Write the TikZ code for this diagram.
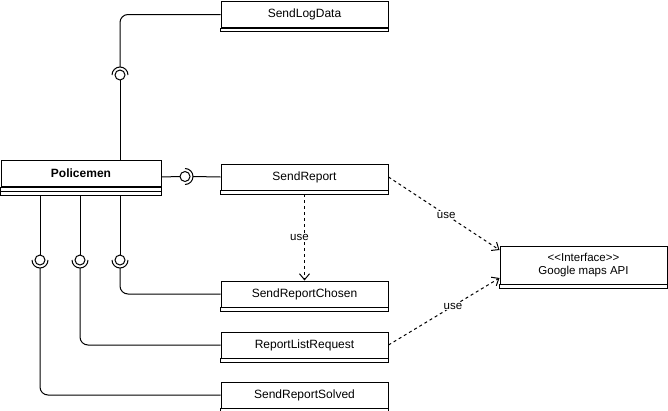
\documentclass[tikz,border=0pt]{standalone}
\usepackage{fontspec}
\setmainfont{Liberation Sans}
\usetikzlibrary{arrows.meta,calc}
\begin{document}
\begin{tikzpicture}[x=1pt,y=-1pt,
  line width=1pt,
  classbox/.style={draw, rectangle, minimum width=167pt, minimum height=26pt,
    anchor=north west, inner sep=0pt, font=\fontsize{12}{14}\selectfont},
  wire/.style={draw, rounded corners=8pt},
  dep/.style={draw, dash pattern=on 3pt off 3pt,
    -{Straight Barb[length=6pt,width=10pt]}},
  uselbl/.style={fill=white, inner sep=1pt, font=\fontsize{11.5}{13}\selectfont},
]
\useasboundingbox (0,0) rectangle (668,410);

% classes
\node[classbox, minimum width=160pt, font=\fontsize{12}{14}\selectfont\bfseries]
  (pol) at (0.5,160) {Policemen};
\draw (pol.south west) rectangle ($(pol.south east)+(0,8)$);
\draw ($(pol.south west)+(0,4)$) -- ($(pol.south east)+(0,4)$);
\coordinate (polb) at ($(pol.south)+(0,8)$);

\node[classbox] (sld) at (220.5,1) {SendLogData};
\node[classbox] (sr)  at (220.5,163.5) {SendReport};
\node[classbox] (src) at (220.5,280.5) {SendReportChosen};
\node[classbox] (rlr) at (220.5,331.5) {ReportListRequest};
\node[classbox] (srs) at (220.5,381.5) {SendReportSolved};
\node[classbox, minimum height=38pt, align=center, font=\fontsize{11.5}{13}\selectfont]
  (gma) at (499.5,245.5) {<\kern0pt<Interface>\kern0pt>\\Google maps API};
\foreach \n in {sld,sr,src,rlr,srs,gma}
  \draw (\n.south west) rectangle ($(\n.south east)+(0,3.5)$);
\coordinate (srb) at ($(sr.south)+(0,3.5)$);

% ball-and-socket links
\coordinate (bA) at (120,75);
\draw (pol.north -| bA) -- ($(bA)+(0,5)$);
\draw (bA) circle[radius=5];
\draw ([shift={(180:8)}]bA) arc[start angle=180,end angle=360,radius=8];
\draw[wire] ($(bA)+(0,-8)$) |- (sld.west);

\coordinate (bB) at (185,176.5);
\draw (pol.east |- sr.west) -- ($(bB)+(-5,0)$);
\draw (bB) circle[radius=5];
\draw ([shift={(-90:8)}]bB) arc[start angle=-90,end angle=90,radius=8];
\draw ($(bB)+(8,0)$) -- (sr.west);

\foreach \x/\t in {120/src,80/rlr,40/srs}{
  \coordinate (bC) at (\x,260);
  \draw (polb -| bC) -- ($(bC)+(0,-5)$);
  \draw (bC) circle[radius=5];
  \draw ([shift={(0:8)}]bC) arc[start angle=0,end angle=180,radius=8];
  \draw[wire] ($(bC)+(0,8)$) |- (\t.west);
}

% usage dependencies
\coordinate (g1) at (499.5,250);
\coordinate (g2) at (499.5,278);
\draw[dep] (sr.east) -- node[uselbl, pos=0.52]{use} (g1);
\draw[dep] (rlr.east) -- node[uselbl, pos=0.58]{use} (g2);
\draw[dep] (srb) -- node[uselbl, xshift=-5pt]{use} (src.north);
\end{tikzpicture}
\end{document}
